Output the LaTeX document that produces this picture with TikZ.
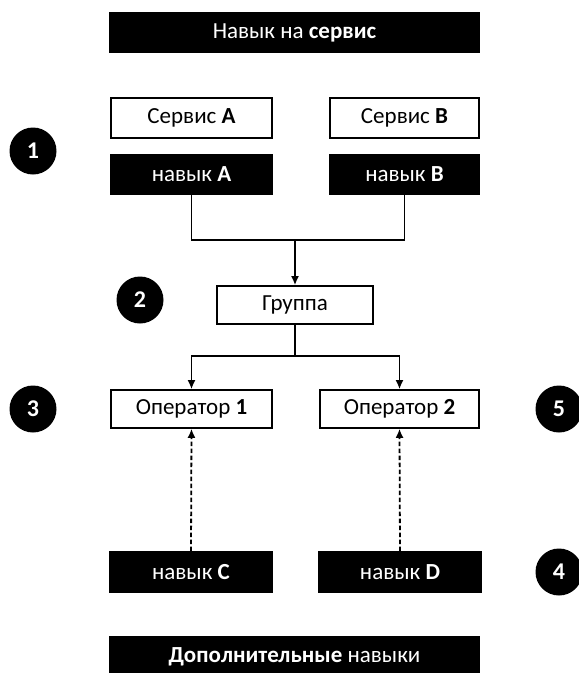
\documentclass[tikz,border=0pt]{standalone}
\usepackage{fontspec}
\setmainfont{Carlito}
\usetikzlibrary{arrows.meta}
\tikzset{
  base/.style={rectangle, inner sep=0pt, font=\fontsize{23}{27}\selectfont, line width=1.6pt},
  blackbox/.style={base, fill=black, draw=black, text=white},
  whitebox/.style={base, fill=white, draw=black},
  badge/.style={circle, fill=black, text=white, minimum size=47pt, inner sep=0pt, font=\fontsize{24}{27}\selectfont\bfseries},
  conn/.style={line width=1.8pt, -{Latex[length=9pt,width=8pt]}},
  plain/.style={line width=1.8pt},
  dashconn/.style={conn, dashed, dash pattern=on 4.5pt off 2.5pt}
}
\begin{document}
\begin{tikzpicture}[x=1pt,y=-1pt]
\useasboundingbox (0,0) rectangle (579,673);
\node[blackbox, minimum width=369pt, minimum height=39pt] (top) at (294.5,32.5) {Навык на \textbf{сервис}};
\node[whitebox, minimum width=161pt, minimum height=40pt] (sA) at (191.5,118) {Сервис \textbf{A}};
\node[whitebox, minimum width=149pt, minimum height=40pt] (sB) at (404.5,118) {Сервис \textbf{B}};
\node[blackbox, minimum width=161pt, minimum height=39pt] (nA) at (191.5,174.5) {навык \textbf{A}};
\node[blackbox, minimum width=149pt, minimum height=39pt] (nB) at (404.5,174.5) {навык \textbf{B}};
\node[whitebox, minimum width=156pt, minimum height=38pt] (grp) at (295,305) {Группа};
\node[whitebox, minimum width=161pt, minimum height=38pt] (op1) at (191.5,409) {Оператор \textbf{1}};
\node[whitebox, minimum width=159pt, minimum height=38pt] (op2) at (399.5,409) {Оператор \textbf{2}};
\node[blackbox, minimum width=162pt, minimum height=40pt] (nC) at (191,572) {навык \textbf{C}};
\node[blackbox, minimum width=162pt, minimum height=40pt] (nD) at (400,572) {навык \textbf{D}};
\node[blackbox, minimum width=369pt, minimum height=39pt] (bot) at (294.5,656.5) {\textbf{Дополнительные} навыки};
\node[badge] (b1) at (33,151) {1};
\node[badge] (b2) at (140,300) {2};
\node[badge] (b3) at (33,409) {3};
\node[badge] (b5) at (559,409) {5};
\node[badge] (b4) at (559,572) {4};
\coordinate (join) at (295,240);
\coordinate (split) at (295,356);
\draw[plain] (nA.south) |- (join) -| (nB.south);
\draw[conn] (join) -- (grp.north);
\draw[plain] (grp.south) -- (split);
\draw[conn] (split) -| (op1.north);
\draw[conn] (split) -| (op2.north);
\draw[dashconn] (nC.north) -- (op1.south);
\draw[dashconn] (nD.north) -- (op2.south);
\end{tikzpicture}
\end{document}
